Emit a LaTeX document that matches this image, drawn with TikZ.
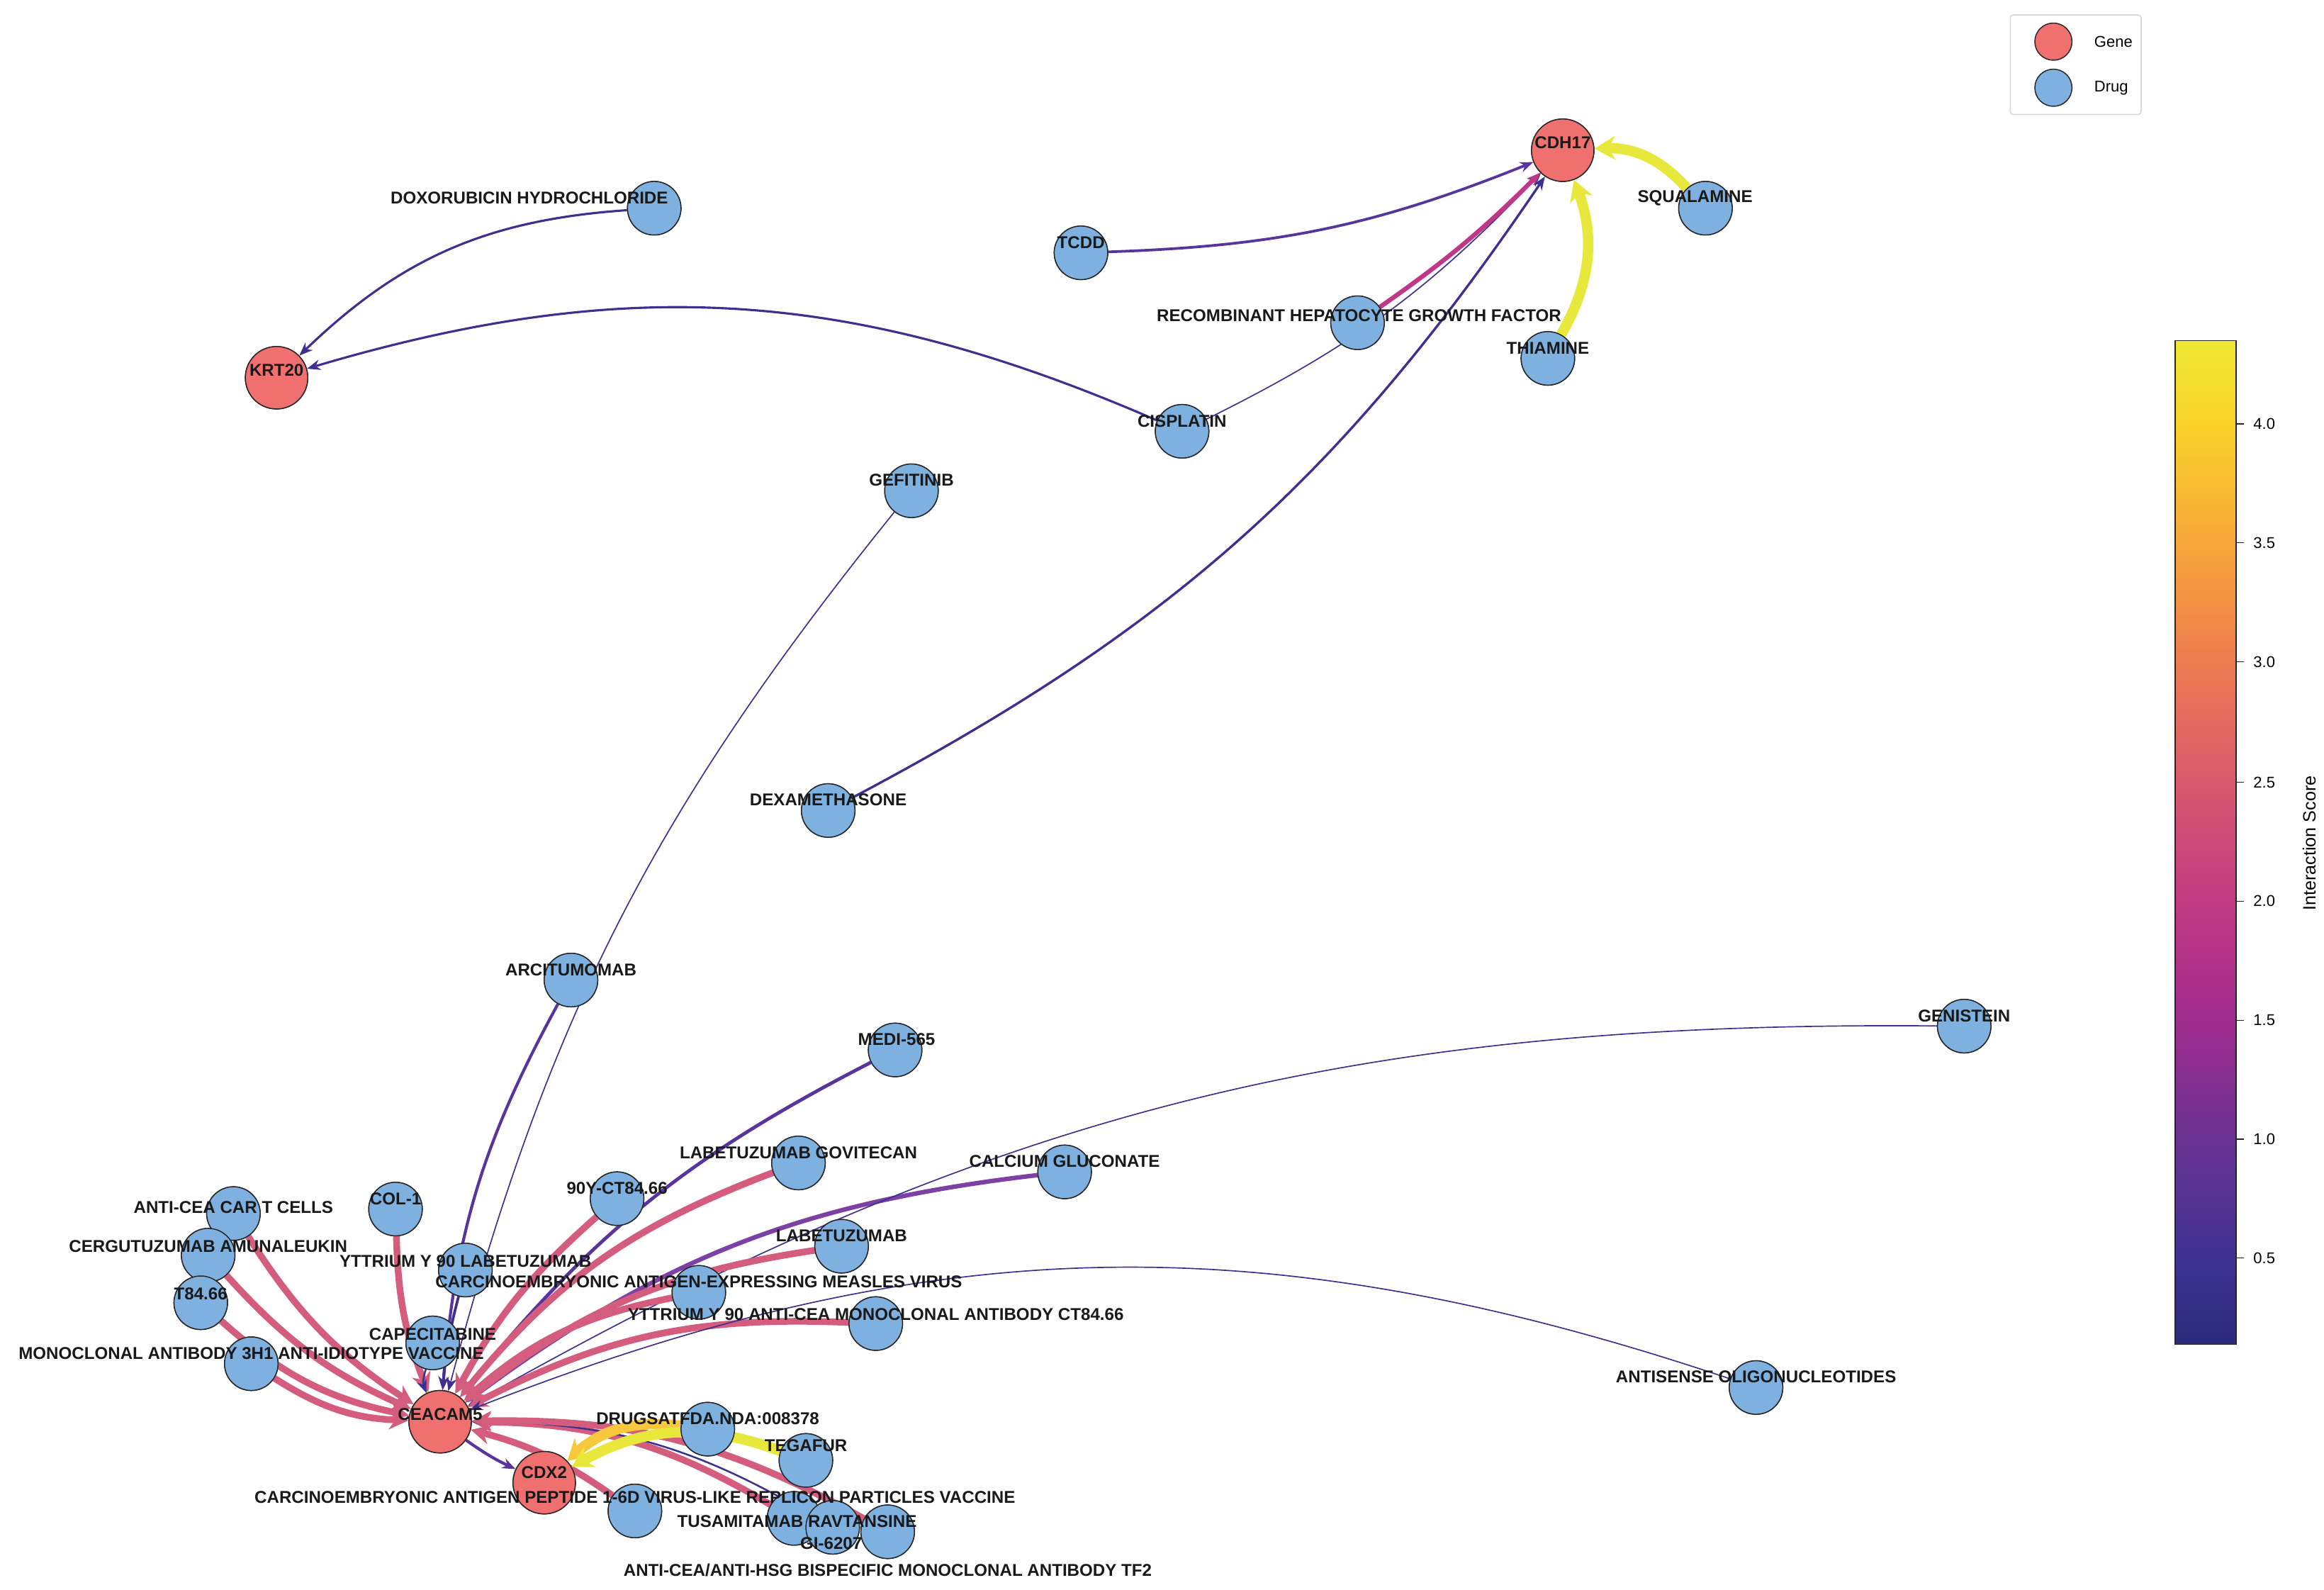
\documentclass[tikz,border=0pt]{standalone}
\usepackage{fontspec}
\setmainfont{Liberation Sans}
\usetikzlibrary{arrows.meta}
\definecolor{cLow}{RGB}{62,48,145}
\definecolor{cPur}{RGB}{88,52,158}
\definecolor{cCal}{RGB}{125,65,165}
\definecolor{cMag}{RGB}{192,55,135}
\definecolor{cPink}{RGB}{212,92,125}
\definecolor{cYel}{RGB}{232,232,60}
\definecolor{cOr}{RGB}{248,200,60}
\definecolor{geneC}{RGB}{240,112,112}
\definecolor{drugC}{RGB}{126,176,224}
\definecolor{p0}{RGB}{43,42,124}
\definecolor{p1}{RGB}{62,50,146}
\definecolor{p2}{RGB}{106,51,147}
\definecolor{p3}{RGB}{160,43,142}
\definecolor{p4}{RGB}{194,58,131}
\definecolor{p5}{RGB}{216,89,110}
\definecolor{p6}{RGB}{238,124,80}
\definecolor{p7}{RGB}{247,166,58}
\definecolor{p8}{RGB}{250,210,42}
\definecolor{p9}{RGB}{238,232,52}
\tikzset{
 gene/.style={circle,draw=black!85,line width=0.7pt,fill=geneC,minimum size=42pt,inner sep=0pt},
 drug/.style={circle,draw=black!85,line width=0.7pt,fill=drugC,minimum size=36pt,inner sep=0pt},
 lab/.style={font=\fontsize{11.5}{13}\selectfont\bfseries,text=black!90,inner sep=0pt},
 e/.style={-{Stealth[length=9pt,width=7pt]},bend right=20},
 thin/.style={e,cLow,line width=0.8pt},
 mid/.style={e,cPur,line width=2pt},
 pink/.style={e,cPink,line width=4.5pt,-{Stealth[length=13pt,width=13pt]}},
 yel/.style={e,cYel,line width=7pt,-{Stealth[length=14pt,width=16pt]}},
}
\begin{document}
\begin{tikzpicture}[x=1pt,y=-1pt]
\useasboundingbox (0,0) rectangle (1563,1069);
% genes
\node[gene] (CDH17) at (1051,101) {};
\node[gene] (KRT20) at (186,254) {};
\node[gene] (CEA) at (296,956) {};
\node[gene] (CDX2) at (366,997) {};
% drugs
\node[drug] (dox) at (440,140) {};
\node[drug] (tcdd) at (727,170) {};
\node[drug] (squ) at (1147,140) {};
\node[drug] (rhgf) at (913,217) {};
\node[drug] (thi) at (1041,241) {};
\node[drug] (cis) at (795,290) {};
\node[drug] (gef) at (613,330) {};
\node[drug] (dex) at (557,545) {};
\node[drug] (arc) at (384,659) {};
\node[drug] (gen) at (1321,690) {};
\node[drug] (medi) at (602,706) {};
\node[drug] (labg) at (537,782) {};
\node[drug] (cal) at (716,788) {};
\node[drug] (col) at (266,813) {};
\node[drug] (y90ct) at (415,806) {};
\node[drug] (car) at (157,816) {};
\node[drug] (lab) at (566,838) {};
\node[drug] (cer) at (140,844) {};
\node[drug] (yl) at (313,854) {};
\node[drug] (mea) at (470,869) {};
\node[drug] (t84) at (135,876) {};
\node[drug] (yct) at (589,890) {};
\node[drug] (cap) at (291,903) {};
\node[drug] (mab) at (169,917) {};
\node[drug] (ant) at (1181,933) {};
\node[drug] (nda) at (476,961) {};
\node[drug] (teg) at (542,982) {};
\node[drug] (pep) at (427,1016) {};
\node[drug] (tus) at (534,1021) {};
\node[drug] (gi) at (560,1027) {};
\node[drug] (tf2) at (597,1030) {};
% edges
\draw[mid,cLow,line width=1.5pt] (dox) to (KRT20);
\draw[mid,cLow,line width=1.5pt] (cis) to (KRT20);
\draw[thin] (cis) to[bend right=10] (CDH17);
\draw[mid,cPur,line width=1.8pt] (tcdd) to[bend right=10] (CDH17);
\draw[e,cMag,line width=3pt] (rhgf) to[bend right=5] (CDH17);
\draw[yel] (thi) to[bend right=25] (CDH17);
\draw[yel] (squ) to[bend right=25] (CDH17);
\draw[mid,cLow,line width=1.6pt] (dex) to[bend right=14] (CDH17);
\draw[thin] (gef) to[bend right=12] (CEA);
\draw[mid] (arc) to[bend right=12] (CEA);
\draw[mid,line width=2.3pt] (medi) to[bend right=12] (CEA);
\draw[pink] (labg) to[bend right=15] (CEA);
\draw[e,cCal,line width=3pt] (cal) to[bend right=15] (CEA);
\draw[thin] (gen) to[bend right=15] (CEA);
\draw[pink] (y90ct) to[bend right=10] (CEA);
\draw[pink] (col) to[bend right=10] (CEA);
\draw[pink] (car) to[bend right=12] (CEA);
\draw[pink] (cer) to[bend right=12] (CEA);
\draw[pink] (t84) to[bend right=15] (CEA);
\draw[pink] (mab) to[bend right=15] (CEA);
\draw[mid,cLow,line width=1.8pt] (yl) to[bend right=5] (CEA);
\draw[mid,cLow,line width=1.2pt] (cap) to (CEA);
\draw[pink] (lab) to[bend right=15] (CEA);
\draw[pink] (mea) to[bend right=15] (CEA);
\draw[pink] (yct) to[bend right=15] (CEA);
\draw[thin] (ant) to[bend right=20] (CEA);
\draw[pink] (tus) to[bend right=15] (CEA);
\draw[thin,line width=1.2pt] (gi) to[bend right=15] (CEA);
\draw[pink] (tf2) to[bend right=15] (CEA);
\draw[pink] (pep) to[bend right=10] (CEA);
\draw[e,cOr,line width=7pt,-{Stealth[length=14pt,width=16pt]}] (nda) to[bend right=25] (CDX2);
\draw[yel] (teg) to[bend right=25] (CDX2);
\draw[mid,cPur,line width=2pt] (CEA) to[bend right=5] (CDX2);
% redraw nodes on top
\foreach \n/\p in {dox/{440,140},tcdd/{727,170},squ/{1147,140},rhgf/{913,217},thi/{1041,241},cis/{795,290},gef/{613,330},dex/{557,545},arc/{384,659},gen/{1321,690},medi/{602,706},labg/{537,782},cal/{716,788},col/{266,813},y90ct/{415,806},car/{157,816},lab/{566,838},cer/{140,844},yl/{313,854},mea/{470,869},t84/{135,876},yct/{589,890},cap/{291,903},mab/{169,917},ant/{1181,933},nda/{476,961},teg/{542,982},pep/{427,1016},tus/{534,1021},gi/{560,1027},tf2/{597,1030}}
  \node[drug] (\n top) at (\p) {};
\node[gene] (CDH17top) at (1051,101) {};
\node[gene] (KRT20top) at (186,254) {};
\node[gene] (CEAtop) at (296,956) {};
\node[gene] (CDX2top) at (366,997) {};
% labels
\node[lab] (L1) at (1051,96) {CDH17};
\node[lab] (L2) at (186,249) {KRT20};
\node[lab] (L3) at (296,951) {CEACAM5};
\node[lab] (L4) at (366,990) {CDX2};
\node[lab] (L5) at (356,133) {DOXORUBICIN HYDROCHLORIDE};
\node[lab] (L6) at (727,163) {TCDD};
\node[lab] (L7) at (1140,133) {SQUALAMINE};
\node[lab] (L8) at (914,212) {RECOMBINANT HEPATOCYTE GROWTH FACTOR};
\node[lab] (L9) at (1041,234) {THIAMINE};
\node[lab] (L10) at (795,283) {CISPLATIN};
\node[lab] (L11) at (613,323) {GEFITINIB};
\node[lab] (L12) at (557,538) {DEXAMETHASONE};
\node[lab] (L13) at (384,652) {ARCITUMOMAB};
\node[lab] (L14) at (1321,683) {GENISTEIN};
\node[lab] (L15) at (603,699) {MEDI-565};
\node[lab] (L16) at (537,775) {LABETUZUMAB GOVITECAN};
\node[lab] (L17) at (716,781) {CALCIUM GLUCONATE};
\node[lab] (L18) at (266,806) {COL-1};
\node[lab] (L19) at (415,799) {90Y-CT84.66};
\node[lab] (L20) at (157,812) {ANTI-CEA CAR T CELLS};
\node[lab] (L21) at (566,831) {LABETUZUMAB};
\node[lab] (L22) at (140,838) {CERGUTUZUMAB AMUNALEUKIN};
\node[lab] (L23) at (313,848) {YTTRIUM Y 90 LABETUZUMAB};
\node[lab] (L24) at (470,862) {CARCINOEMBRYONIC ANTIGEN-EXPRESSING MEASLES VIRUS};
\node[lab] (L25) at (135,870) {T84.66};
\node[lab] (L26) at (589,884) {YTTRIUM Y 90 ANTI-CEA MONOCLONAL ANTIBODY CT84.66};
\node[lab] (L27) at (291,897) {CAPECITABINE};
\node[lab] (L28) at (169,910) {MONOCLONAL ANTIBODY 3H1 ANTI-IDIOTYPE VACCINE};
\node[lab] (L29) at (1181,926) {ANTISENSE OLIGONUCLEOTIDES};
\node[lab] (L30) at (476,954) {DRUGSATFDA.NDA:008378};
\node[lab] (L31) at (542,972) {TEGAFUR};
\node[lab] (L32) at (427,1007) {CARCINOEMBRYONIC ANTIGEN PEPTIDE 1-6D VIRUS-LIKE REPLICON PARTICLES VACCINE};
\node[lab] (L33) at (536,1023) {TUSAMITAMAB RAVTANSINE};
\node[lab] (L34) at (559,1038) {GI-6207};
\node[lab] (L35) at (597,1056) {ANTI-CEA/ANTI-HSG BISPECIFIC MONOCLONAL ANTIBODY TF2};
% legend
\draw[black!15,line width=0.8pt,rounded corners=2pt,fill=white] (1352,10) rectangle (1440,77);
\node[circle,draw=black!85,line width=0.7pt,fill=geneC,minimum size=25pt,inner sep=0pt] (lg1) at (1381,28) {};
\node[circle,draw=black!85,line width=0.7pt,fill=drugC,minimum size=25pt,inner sep=0pt] (lg2) at (1381,59) {};
\node[anchor=west,font=\fontsize{10.5}{12}\selectfont] (lt1) at (1405,28) {Gene};
\node[anchor=west,font=\fontsize{10.5}{12}\selectfont] (lt2) at (1405,59) {Drug};
% colorbar
\shade[bottom color=p0,top color=p1] (1463,904) rectangle (1504,846);
\shade[bottom color=p1,top color=p2] (1463,846.5) rectangle (1504,766);
\shade[bottom color=p2,top color=p3] (1463,766.5) rectangle (1504,686);
\shade[bottom color=p3,top color=p4] (1463,686.5) rectangle (1504,606);
\shade[bottom color=p4,top color=p5] (1463,606.5) rectangle (1504,526);
\shade[bottom color=p5,top color=p6] (1463,526.5) rectangle (1504,445);
\shade[bottom color=p6,top color=p7] (1463,445.5) rectangle (1504,365);
\shade[bottom color=p7,top color=p8] (1463,365.5) rectangle (1504,285);
\shade[bottom color=p8,top color=p9] (1463,285.5) rectangle (1504,229);
\draw[black!85,line width=0.8pt] (1463,229) rectangle (1504,904);
\foreach \v/\t in {846/0.5,766/1.0,686/1.5,606/2.0,526/2.5,445/3.0,365/3.5,285/4.0}{
  \draw[black!85,line width=0.6pt] (1504,\v) -- (1509,\v);
  \node[anchor=west,font=\fontsize{10.5}{12}\selectfont] at (1512,\v) {\t};
}
\node[rotate=90,font=\fontsize{12}{14}\selectfont] (cbl) at (1553,567) {Interaction Score};
\end{tikzpicture}
\end{document}
